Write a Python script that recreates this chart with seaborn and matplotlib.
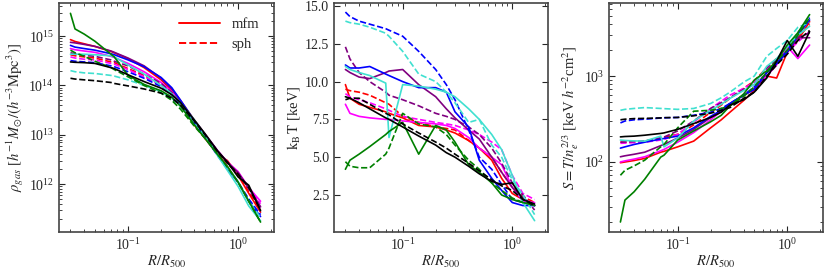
import numpy as np
import pandas as pd
import matplotlib
matplotlib.use("Agg")
import matplotlib.pyplot as plt
from matplotlib.lines import Line2D
import seaborn as sns

# ---------------- data ----------------
R = [0.03, 0.033, 0.04, 0.05, 0.07, 0.075, 0.1, 0.14, 0.2, 0.25, 0.3, 0.4, 0.5, 0.65, 0.8, 1.0, 1.25, 1.6]
colors = ["red", "magenta", "purple", "blue", "turquoise", "green", "black"]
sims = ["mfm", "sph"]

# gas density in units of 1e14 h^-1 Msun / (h^-3 Mpc^3)
rho_red_mfm = [8.5, 7.8, 7.0, 6.2, 4.9, 4.6, 3.5, 2.3, 1.3, 0.80, 0.45, 0.16, 0.085, 0.040, 0.030, 0.015, 0.0065, 0.0027]
rho_red_sph = [4.2, 4.0, 3.8, 3.6, 3.0, 2.9, 2.2, 1.6, 1.05, 0.70, 0.42, 0.16, 0.088, 0.042, 0.026, 0.016, 0.0070, 0.0030]
rho_magenta_mfm = [5.6, 5.3, 5.0, 4.7, 3.9, 3.7, 2.8, 1.9, 1.15, 0.75, 0.46, 0.19, 0.10, 0.048, 0.028, 0.018, 0.0085, 0.0045]
rho_magenta_sph = [3.8, 3.6, 3.4, 3.3, 2.8, 2.7, 2.1, 1.5, 1.0, 0.68, 0.42, 0.18, 0.10, 0.046, 0.027, 0.017, 0.0085, 0.0040]
rho_purple_mfm = [7.5, 7.3, 6.8, 6.2, 5.0, 4.7, 3.6, 2.5, 1.4, 0.85, 0.50, 0.20, 0.105, 0.048, 0.028, 0.017, 0.0085, 0.0035]
rho_purple_sph = [4.6, 4.4, 4.1, 3.9, 3.3, 3.1, 2.5, 1.7, 1.1, 0.72, 0.44, 0.19, 0.10, 0.047, 0.027, 0.017, 0.0080, 0.0033]
rho_blue_mfm = [6.5, 6.0, 5.6, 5.2, 4.4, 4.2, 3.3, 2.4, 1.45, 0.90, 0.50, 0.19, 0.095, 0.040, 0.020, 0.011, 0.0045, 0.0022]
rho_blue_sph = [3.2, 3.1, 3.0, 2.9, 2.5, 2.4, 1.9, 1.4, 0.95, 0.65, 0.42, 0.17, 0.09, 0.038, 0.021, 0.011, 0.005, 0.0024]
rho_turquoise_mfm = [4.3, 4.3, 4.3, 4.2, 4.0, 3.8, 2.6, 1.7, 1.0, 0.68, 0.44, 0.20, 0.10, 0.038, 0.019, 0.009, 0.0036, 0.0018]
rho_turquoise_sph = [2.0, 1.9, 1.8, 1.75, 1.6, 1.55, 1.3, 1.0, 0.75, 0.55, 0.38, 0.17, 0.09, 0.040, 0.022, 0.011, 0.0045, 0.0021]
rho_green_mfm = [29.0, 14.0, 11.0, 7.9, 4.3, 3.8, 1.6, 1.05, 0.78, 0.58, 0.38, 0.16, 0.085, 0.040, 0.023, 0.011, 0.0045, 0.0017]
rho_green_sph = [5.2, 4.6, 3.9, 3.1, 2.3, 2.1, 1.5, 1.0, 0.70, 0.50, 0.33, 0.15, 0.085, 0.042, 0.022, 0.011, 0.0045, 0.0017]
rho_black_mfm = [3.0, 2.95, 2.9, 2.8, 2.3, 2.2, 1.65, 1.2, 0.88, 0.65, 0.45, 0.20, 0.105, 0.047, 0.028, 0.014, 0.0095, 0.0029]
rho_black_sph = [1.4, 1.35, 1.3, 1.25, 1.15, 1.1, 0.98, 0.85, 0.70, 0.55, 0.40, 0.19, 0.10, 0.046, 0.027, 0.016, 0.0085, 0.0030]

# temperature [keV]
T_red_mfm = [9.8, 8.9, 8.5, 8.3, 8.0, 7.9, 7.6, 7.1, 7.0, 6.8, 6.6, 6.1, 5.6, 4.8, 3.6, 2.6, 2.2, 1.8]
T_red_sph = [9.5, 9.4, 9.3, 9.1, 8.6, 8.5, 7.7, 7.3, 7.0, 6.9, 6.8, 6.1, 5.6, 5.0, 4.0, 3.0, 2.4, 2.0]
T_magenta_mfm = [8.5, 7.9, 7.7, 7.6, 7.5, 7.5, 7.4, 7.3, 7.2, 7.1, 6.9, 6.3, 5.6, 5.0, 4.5, 3.0, 2.1, 2.0]
T_magenta_sph = [9.2, 9.0, 8.8, 8.6, 8.2, 8.1, 7.7, 7.5, 7.3, 7.2, 7.1, 6.8, 6.5, 6.0, 5.5, 3.8, 2.6, 2.2]
T_purple_mfm = [10.8, 10.6, 10.3, 10.2, 10.6, 10.7, 10.8, 9.8, 9.0, 8.2, 7.6, 6.8, 6.2, 5.0, 4.0, 3.0, 2.3, 1.8]
T_purple_sph = [12.3, 11.5, 10.6, 10.0, 9.3, 9.1, 8.8, 8.4, 7.9, 7.7, 7.5, 7.0, 6.5, 5.6, 4.6, 3.3, 2.5, 1.5]
T_blue_mfm = [11.1, 10.9, 10.9, 11.0, 10.5, 10.4, 10.0, 9.6, 9.6, 9.3, 8.0, 7.0, 4.8, 3.6, 2.8, 2.0, 1.8, 1.8]
T_blue_sph = [14.6, 14.3, 14.0, 13.8, 13.5, 13.4, 13.0, 12.0, 10.8, 9.8, 8.8, 6.8, 5.0, 4.2, 3.2, 2.2, 2.0, 1.8]
T_turquoise_mfm = [11.0, 10.8, 10.6, 10.4, 9.9, 6.3, 9.8, 9.7, 9.5, 9.3, 9.0, 8.2, 7.5, 6.5, 5.5, 3.8, 2.0, 0.8]
T_turquoise_sph = [14.0, 13.9, 13.8, 13.6, 13.2, 13.0, 12.0, 10.5, 10.0, 9.3, 8.6, 7.3, 7.5, 5.8, 5.0, 3.5, 2.5, 1.2]
T_green_mfm = [4.2, 4.8, 5.2, 5.7, 6.5, 6.7, 7.3, 5.2, 7.1, 6.8, 6.0, 4.5, 4.0, 3.3, 2.5, 2.2, 2.0, 1.8]
T_green_sph = [4.7, 4.4, 4.3, 4.3, 5.2, 5.6, 7.9, 7.2, 7.0, 6.5, 5.8, 4.8, 4.2, 3.3, 2.8, 2.3, 2.0, 1.9]
T_black_mfm = [9.0, 8.9, 8.6, 8.2, 7.6, 7.5, 7.0, 6.4, 5.8, 5.3, 5.0, 4.4, 3.9, 3.4, 3.2, 3.3, 2.2, 1.9]
T_black_sph = [8.8, 8.9, 8.9, 8.5, 7.9, 7.8, 7.2, 6.6, 6.0, 5.6, 5.2, 4.6, 4.1, 3.5, 3.1, 2.8, 2.2, 1.8]

# entropy [keV h^-2 cm^2]
S_red_mfm = [98, 100, 104, 110, 130, 133, 150, 175, 250, 310, 380, 520, 680, 1000, 950, 1900, 2600, 4300]
S_red_sph = [170, 170, 172, 175, 190, 193, 210, 270, 380, 460, 550, 720, 880, 1250, 1600, 2000, 2800, 4000]
S_magenta_mfm = [100, 103, 108, 115, 135, 140, 170, 220, 310, 390, 470, 600, 720, 1000, 1350, 2200, 1600, 2300]
S_magenta_sph = [165, 166, 168, 170, 180, 183, 210, 290, 420, 510, 600, 720, 850, 1200, 1500, 1900, 2500, 3300]
S_purple_mfm = [115, 118, 123, 130, 155, 160, 190, 240, 330, 400, 480, 600, 700, 1100, 1400, 1900, 2800, 2800]
S_purple_sph = [170, 171, 173, 175, 190, 195, 230, 300, 420, 490, 560, 700, 800, 1250, 1550, 1950, 2800, 3200]
S_blue_mfm = [145, 150, 160, 170, 185, 188, 200, 250, 340, 400, 480, 600, 700, 1100, 1400, 1900, 3000, 4500]
S_blue_sph = [285, 300, 310, 315, 325, 327, 330, 350, 380, 420, 480, 600, 750, 1100, 1400, 2000, 3200, 4800]
S_turquoise_mfm = [180, 178, 176, 175, 200, 150, 190, 300, 400, 470, 550, 680, 800, 1300, 1600, 2200, 3000, 3800]
S_turquoise_sph = [400, 410, 420, 430, 420, 418, 410, 420, 480, 560, 650, 850, 1000, 1700, 2100, 2600, 3700, 4200]
S_green_mfm = [20, 36, 45, 63, 114, 120, 180, 230, 294, 350, 450, 620, 900, 1150, 1500, 2300, 3200, 5200]
S_green_sph = [70, 80, 90, 105, 150, 160, 250, 390, 400, 420, 450, 580, 750, 1100, 1500, 2000, 3000, 4800]
S_black_mfm = [196, 198, 200, 205, 215, 218, 240, 280, 330, 380, 460, 530, 650, 950, 1500, 2600, 1700, 3300]
S_black_sph = [310, 315, 320, 322, 326, 328, 330, 345, 370, 400, 430, 550, 650, 1000, 1350, 1800, 2600, 3400]

RHO_UNIT = 1e14

# ---------------- style ----------------
sns.set_style("ticks")
plt.rcParams.update({
    "font.family": ["Liberation Serif", "DejaVu Serif"],
    "mathtext.fontset": "stix",
    "font.size": 10,
    "xtick.direction": "in",
    "ytick.direction": "in",
    "xtick.top": True,
    "ytick.right": True,
    "xtick.major.size": 4.5,
    "ytick.major.size": 4.5,
    "xtick.minor.size": 2.5,
    "ytick.minor.size": 2.5,
    "xtick.minor.visible": True,
    "axes.linewidth": 1.2,
    "axes.edgecolor": "#444444",
})

g = globals()


def build(prefix, scale=1.0):
    rows = []
    for c in colors:
        for s in sims:
            vals = g[f"{prefix}_{c}_{s}"]
            for r, v in zip(R, vals):
                rows.append({"R": r, "v": v * scale, "color": c, "sim": s})
    return pd.DataFrame(rows)


fig = plt.figure(figsize=(8.3, 2.77), dpi=100)
W, H = 830, 277
boxes = [(59, 274), (334, 548), (609, 823)]
top, bot = 3, 232
axes = [fig.add_axes([l / W, (H - bot) / H, (r - l) / W, (bot - top) / H]) for l, r in boxes]

palette = {c: c for c in colors}
dashes = {"mfm": "", "sph": (3.7, 1.6)}

panels = [("rho", RHO_UNIT), ("T", 1.0), ("S", 1.0)]
for ax, (pre, sc) in zip(axes, panels):
    df = build(pre, sc)
    sns.lineplot(data=df, x="R", y="v", hue="color", style="sim", palette=palette,
                 dashes=dashes, estimator=None, sort=True, legend=False, ax=ax,
                 linewidth=1.2)
    ax.set_xscale("log")
    ax.set_xlim(0.0236, 2.12)
    ax.set_xlabel(r"$R/R_{500}$", fontsize=10.5, labelpad=1)
    ax.tick_params(which="both", direction="in", top=True, right=True, labelsize=10)

axes[0].set_yscale("log")
axes[0].set_ylim(1.07e11, 4.7e15)
axes[0].set_ylabel(r"$\rho_{gas}$ [$h^{-1}M_{\odot}/(h^{-3}\mathrm{Mpc}^3)$]", fontsize=10.5, labelpad=2)

axes[1].set_ylim(0.05, 15.2)
axes[1].set_yticks([2.5, 5.0, 7.5, 10.0, 12.5, 15.0])
axes[1].set_yticklabels(["2.5", "5.0", "7.5", "10.0", "12.5", "15.0"])
axes[1].yaxis.set_minor_locator(matplotlib.ticker.NullLocator())
axes[1].set_ylabel(r"$\mathrm{k_B\,T}$ [keV]", fontsize=10.5, labelpad=2)

axes[2].set_yscale("log")
axes[2].set_ylim(15.3, 7100)
axes[2].set_ylabel(r"$S=T/n_e^{2/3}$ [keV $h^{-2}$cm$^2$]", fontsize=10.5, labelpad=2)

handles = [Line2D([], [], color="red", lw=1.4, ls="-"),
           Line2D([], [], color="red", lw=1.4, ls=(0, (3.7, 1.6)))]
axes[0].legend(handles, ["mfm", "sph"], loc="upper right", frameon=False,
               fontsize=10.5, handlelength=2.8, borderaxespad=0.6)

fig.savefig("out.png", dpi=100)
